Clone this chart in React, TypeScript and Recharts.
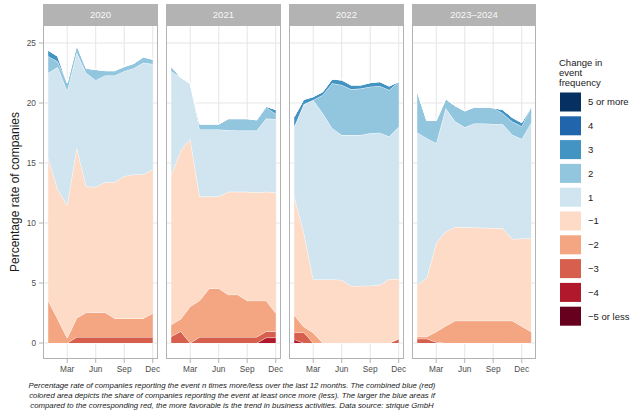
import React from "react";
import { Area, AreaChart, CartesianGrid, XAxis, YAxis } from "recharts";

const FONT = "'Liberation Sans', Arial, sans-serif";

const PANELS = ["2020", "2021", "2022", "2023–2024"];
const PANEL_LEN = [12, 12, 12, 13];
const MONTH_TICKS = [3, 6, 9, 12];
const MONTH_LABELS: Record<number, string> = { 3: "Mar", 6: "Jun", 9: "Sep", 12: "Dec" };
const Y_TICKS = [0, 5, 10, 15, 20, 25];

// bottom of the stack first
const LEVELS = ["−5 or less", "−4", "−3", "−2", "−1", "1", "2", "3", "4", "5 or more"];
const COLORS = ["#67001F", "#B2182B", "#D6604D", "#F4A582", "#FDDBC7", "#D1E5F0", "#92C5DE", "#4393C3", "#2166AC", "#053061"];

// monthly shares, Jan 2020 .. Jan 2024 (12 + 12 + 12 + 13 values)
const lessFive = [
  0, 0, 0, 0, 0, 0, 0, 0, 0, 0, 0, 0,
  0, 0, 0, 0, 0, 0, 0, 0, 0, 0, 0, 0,
  0, 0, 0, 0, 0, 0, 0, 0, 0, 0, 0, 0,
  0, 0, 0, 0, 0, 0, 0, 0, 0, 0, 0, 0, 0,
];
const minusFour = [
  0, 0, 0, 0, 0, 0, 0, 0, 0, 0, 0, 0,
  0, 0, 0, 0, 0, 0, 0, 0, 0, 0, 0.45, 0.45,
  0.3, 0, 0, 0, 0, 0, 0, 0, 0, 0, 0, 0,
  0, 0, 0, 0, 0, 0, 0, 0, 0, 0, 0, 0, 0,
];
const minusThree = [
  0, 0, 0, 0.5, 0.5, 0.5, 0.5, 0.5, 0.5, 0.5, 0.5, 0.5,
  0.55, 0.97, 0, 0.5, 0.5, 0.5, 0.5, 0.5, 0.5, 0.5, 0.52, 0.52,
  0.6, 0.9, 0, 0, 0, 0, 0, 0, 0, 0, 0, 0.35,
  0.36, 0.36, 0.08, 0, 0, 0, 0, 0, 0, 0, 0, 0, 0,
];
const minusTwo = [
  3.55, 2.0, 0.42, 1.58, 2.05, 2.05, 2.05, 1.55, 1.55, 1.55, 1.55, 1.97,
  0.98, 1.03, 3.05, 3.05, 4.05, 4.05, 3.53, 3.53, 3.03, 3.03, 2.56, 1.53,
  1.43, 0.46, 0.86, 0, 0, 0, 0, 0, 0, 0, 0, 0,
  0.17, 0.17, 0.86, 1.42, 1.86, 1.86, 1.86, 1.86, 1.86, 1.86, 1.86, 1.4, 0.94,
];
const minusOne = [
  11.85, 10.8, 11.08, 14.22, 10.5, 10.45, 10.85, 11.35, 11.85, 12.0, 12.0, 11.98,
  12.5, 14.05, 13.98, 8.65, 7.65, 7.65, 8.57, 8.57, 9.07, 9.02, 9.07, 10.05,
  9.87, 7.92, 4.44, 5.3, 5.3, 5.25, 4.75, 4.75, 4.78, 4.83, 5.33, 4.98,
  4.33, 4.89, 7.39, 7.88, 7.81, 7.78, 7.76, 7.74, 7.72, 7.7, 6.81, 7.3, 7.76,
];
const plusOne = [
  7.1, 10.2, 9.5, 7.9, 9.45, 8.9, 8.9, 8.9, 8.75, 8.85, 9.3, 8.8,
  8.62, 6.1, 4.62, 5.6, 5.6, 5.6, 5.12, 5.1, 5.1, 5.15, 6.1, 6.1,
  5.83, 10.62, 14.95, 13.84, 12.6, 12.08, 12.58, 12.58, 12.69, 12.7, 11.87, 12.7,
  12.69, 11.65, 8.32, 10.27, 8.78, 8.33, 8.68, 8.7, 8.68, 8.67, 8.68, 8.3, 9.65,
];
const plusTwo = [
  1.4, 0.45, 0.7, 0.65, 0.4, 0.9, 0.4, 0.4, 0.4, 0.4, 0.5, 0.4,
  0.4, 0, 0, 0.45, 0.45, 0.45, 0.98, 1.0, 1.0, 0.9, 0.95, 0.45,
  0, 0, 0, 1.53, 3.74, 4.17, 3.81, 3.87, 3.89, 3.89, 3.88, 3.75,
  3.45, 1.48, 1.9, 0.78, 1.32, 1.38, 1.36, 1.36, 1.35, 0.92, 1.1, 1.07, 1.35,
];
const plusThree = [
  0.5, 0.45, 0, 0, 0, 0, 0, 0, 0, 0, 0, 0,
  0, 0, 0, 0, 0, 0, 0, 0, 0, 0, 0.07, 0.35,
  0.83, 0.4, 0.28, 0.27, 0.36, 0.42, 0.36, 0.3, 0.34, 0.36, 0.34, 0,
  0, 0, 0, 0, 0, 0, 0, 0, 0, 0.3, 0.35, 0.3, 0,
];
const plusFour = [
  0, 0, 0, 0, 0, 0, 0, 0, 0, 0, 0, 0,
  0, 0, 0, 0, 0, 0, 0, 0, 0, 0, 0, 0,
  0, 0, 0, 0, 0, 0, 0, 0, 0, 0, 0, 0,
  0, 0, 0, 0, 0, 0, 0, 0, 0, 0, 0, 0, 0,
];
const fivePlus = [
  0, 0, 0, 0, 0, 0, 0, 0, 0, 0, 0, 0,
  0, 0, 0, 0, 0, 0, 0, 0, 0, 0, 0, 0,
  0, 0, 0, 0, 0, 0, 0, 0, 0, 0, 0, 0,
  0, 0, 0, 0, 0, 0, 0, 0, 0, 0, 0, 0, 0,
];

const SERIES = [lessFive, minusFour, minusThree, minusTwo, minusOne, plusOne, plusTwo, plusThree, plusFour, fivePlus];

const CAPTION = [
  "Percentage rate of companies reporting the event n times more/less over the last 12 months. The combined blue (red)",
  "colored area depicts the share of companies reporting the event at least once more (less). The larger the blue areas if",
  "compared to the corresponding red, the more favorable is the trend in business activities. Data source: strique GmbH",
];

// layout
const PX_PER_MONTH = 9.5;
const PAD = 0.55;
const PLOT_TOP = 25;
const PLOT_H = 334;
const Y_DOMAIN: [number, number] = [-1.333, 26.5];
const Y_AXIS_W = 43;
const GAP = 8;
const RIGHT_ROOM = 12;

function panelData(p: number) {
  const off = PANEL_LEN.slice(0, p).reduce((a, b) => a + b, 0);
  return Array.from({ length: PANEL_LEN[p] }, (_, i) => {
    const row: Record<string, number> = { m: i + 1 };
    SERIES.forEach((s, k) => (row["s" + k] = s[off + i]));
    return row;
  });
}

function Panel({ p, left }: { p: number; left: number }) {
  const n = PANEL_LEN[p];
  const w = (n - 1 + 2 * PAD) * PX_PER_MONTH;
  const first = p === 0;
  const chartLeft = first ? left - Y_AXIS_W : left;
  const chartW = (first ? w + Y_AXIS_W : w) + RIGHT_ROOM;
  return (
    <>
      <div
        style={{
          position: "absolute",
          left,
          top: 4,
          width: w,
          height: PLOT_TOP - 4,
          background: "#B3B3B3",
          color: "#F7F7F7",
          fontSize: 9.5,
          lineHeight: `${PLOT_TOP - 4}px`,
          textAlign: "center",
          fontFamily: FONT,
          boxSizing: "border-box",
        }}
      >
        {PANELS[p]}
      </div>
      <div style={{ position: "absolute", left: chartLeft, top: PLOT_TOP }}>
        <AreaChart
          width={chartW}
          height={PLOT_H + 30}
          data={panelData(p)}
          margin={{ top: 0, right: RIGHT_ROOM, bottom: 0, left: 0 }}
        >
          <CartesianGrid stroke="#E6E6E6" strokeWidth={1} horizontalValues={Y_TICKS} verticalValues={MONTH_TICKS} />
          <XAxis
            type="number"
            dataKey="m"
            domain={[1 - PAD, n + PAD]}
            ticks={MONTH_TICKS}
            tickFormatter={(v: number) => MONTH_LABELS[v]}
            axisLine={false}
            tickSize={4}
            tickMargin={3}
            tickLine={{ stroke: "#B3B3B3" }}
            tick={{ fill: "#4D4D4D", fontSize: 8.3, fontFamily: FONT }}
            height={30}
            interval={0}
            allowDataOverflow
          />
          <YAxis
            type="number"
            domain={Y_DOMAIN}
            ticks={Y_TICKS}
            hide={!first}
            width={Y_AXIS_W}
            axisLine={false}
            tickSize={4}
            tickMargin={3}
            tickLine={{ stroke: "#B3B3B3" }}
            tick={{ fill: "#4D4D4D", fontSize: 8.3, fontFamily: FONT }}
            interval={0}
            allowDataOverflow
          />
          {LEVELS.map((_, k) => (
            <Area
              key={k}
              type="linear"
              dataKey={"s" + k}
              stackId="s"
              fill={COLORS[k]}
              fillOpacity={1}
              stroke="#FFFFFF"
              strokeWidth={0.9}
              dot={false}
              activeDot={false}
              isAnimationActive={false}
            />
          ))}
        </AreaChart>
      </div>
      <div
        style={{
          position: "absolute",
          left,
          top: PLOT_TOP,
          width: w,
          height: PLOT_H,
          border: "1px solid #B3B3B3",
          boxSizing: "border-box",
          pointerEvents: "none",
        }}
      />
    </>
  );
}

export default function App() {
  const lefts: number[] = [];
  let x = 43;
  PANEL_LEN.forEach((n) => {
    lefts.push(x);
    x += (n - 1 + 2 * PAD) * PX_PER_MONTH + GAP;
  });
  const legendTop = 102;
  const step = 23.8;
  return (
    <div style={{ position: "absolute", left: 0, top: 0, width: 638, height: 416, background: "#fff", fontFamily: FONT }}>
      <svg width={638} height={416} style={{ position: "absolute", left: 0, top: 0 }}>
        <text
          transform="translate(18.5,192) rotate(-90)"
          textAnchor="middle"
          fontSize={12}
          fill="#1A1A1A"
          fontFamily={FONT}
        >
          Percentage rate of companies
        </text>
        <text x={559} y={65.5} fontSize={9.5} fill="#1A1A1A" fontFamily={FONT}>
          <tspan x={559}>Change in</tspan>
          <tspan x={559} dy={10}>event</tspan>
          <tspan x={559} dy={10}>frequency</tspan>
        </text>
        {LEVELS.slice()
          .reverse()
          .map((lab, i) => {
            const cy = legendTop + i * step;
            return (
              <g key={lab}>
                <rect x={560} y={cy - 9.5} width={21} height={19} fill={COLORS[LEVELS.length - 1 - i]} />
                <text x={588} y={cy + 3.3} fontSize={9.5} fill="#1A1A1A" fontFamily={FONT}>
                  {lab}
                </text>
              </g>
            );
          })}
        {CAPTION.map((line, i) => (
          <text
            key={i}
            x={232}
            y={388 + i * 10}
            textAnchor="middle"
            fontSize={7.8}
            fontStyle="italic"
            fill="#1A1A1A"
            fontFamily={FONT}
          >
            {line}
          </text>
        ))}
      </svg>
      {PANELS.map((_, p) => (
        <Panel key={p} p={p} left={lefts[p]} />
      ))}
    </div>
  );
}
